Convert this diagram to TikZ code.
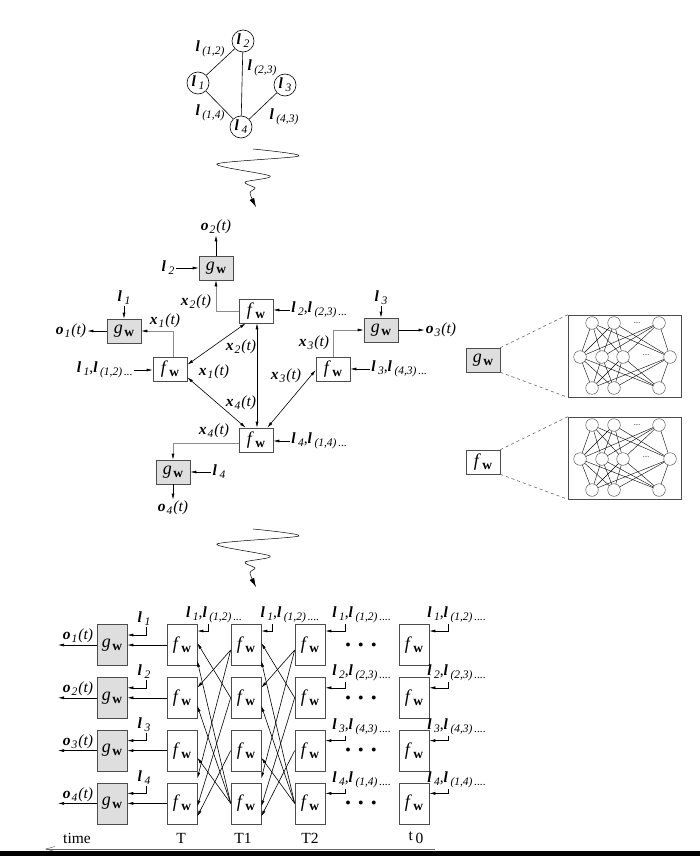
\documentclass[tikz,border=0pt]{standalone}
\usepackage{fontspec}
\setmainfont{Liberation Serif}
\usetikzlibrary{arrows.meta,positioning,calc}

\newcommand{\sub}[1]{\raisebox{-3pt}{\fontsize{11.5}{13}\selectfont\itshape #1}}
\newcommand{\lb}[1]{\textbf{\textit{l}}\hspace{2.5pt}\sub{#1}}
\newcommand{\vb}[2]{\textbf{\textit{#1}}\hspace{1pt}\sub{#2}\hspace{1pt}\textit{(t)}}
\newcommand{\fw}{\textit{f}\hspace{1.5pt}\raisebox{-3pt}{\fontsize{13.5}{15}\selectfont\bfseries w}}
\newcommand{\gw}{\textit{g}\hspace{1.5pt}\raisebox{-3pt}{\fontsize{13.5}{15}\selectfont\bfseries w}}

\begin{document}
\begin{tikzpicture}[x=1pt, y=-1pt, line width=0.6pt,
  font=\fontsize{15.5}{18}\selectfont,
  lab/.style={inner sep=1pt},
  fbox/.style={draw=black!70, fill=white, minimum width=34pt, minimum height=24pt,
    inner sep=0pt, font=\fontsize{18}{20}\selectfont},
  gbox/.style={fbox, fill=black!13},
  ubox/.style={fbox, minimum width=30pt, minimum height=41pt},
  ugbox/.style={ubox, fill=black!13},
  vtx/.style={circle, draw, minimum size=22pt, inner sep=0pt},
  nrn/.style={circle, draw=black!80, minimum size=12.6pt, inner sep=0pt, line width=0.4pt},
  arr/.style={-{Latex[length=6pt,width=3pt]}},
  darr/.style={{Latex[length=6pt,width=3pt]}-{Latex[length=6pt,width=3pt]}},
  glink/.style={draw=black!45, -{Latex[length=6pt,width=3pt,color=black]}},
  squig/.style={line width=0.5pt, -{Latex[length=9pt,width=5pt]}}
]
\useasboundingbox (0,0) rectangle (700,856);

% graph
\node[vtx] (v2) at (243,41) {\lb{2}};
\node[vtx] (v1) at (198,83) {\lb{1}};
\node[vtx] (v3) at (285,85) {\lb{3}};
\node[vtx] (v4) at (241,127) {\lb{4}};
\draw (v1) -- (v2);
\draw (v2) -- (v4);
\draw (v1) -- (v4);
\draw (v3) -- (v4);
\node[lab] (e12) at (210,49) {\lb{(1,2)}};
\node[lab] (e23) at (262,68) {\lb{(2,3)}};
\node[lab] (e14) at (210,113) {\lb{(1,4)}};
\node[lab] (e43) at (284,117) {\lb{(4,3)}};

% squiggly arrows
\foreach \d in {0,380}
  \draw[squig] plot[smooth, tension=0.5] coordinates {(253,149+\d) (299,156+\d)
    (217,164+\d) (270,176+\d) (245,182+\d) (255,188+\d) (250,193+\d) (256,207+\d)};

% encoding network
\node[gbox] (g2) at (216,268) {\gw};
\node[fbox] (f2) at (256,311) {\fw};
\node[gbox] (g1) at (124,331) {\gw};
\node[fbox] (f1) at (170,369) {\fw};
\node[gbox] (g3) at (381,330) {\gw};
\node[fbox] (f3) at (333,369) {\fw};
\node[fbox] (f4) at (256,440) {\fw};
\node[gbox] (g4) at (173,472) {\gw};

\node[lab] (o2) at (216,227) {\vb{o}{2}};
\draw[arr] (g2) -- (o2);
\node[lab] (l2) at (168,268) {\lb{2}};
\draw[arr] (l2) -- (g2);
\draw[glink] (f2.west) -| (g2.south);
\node[lab] (x2a) at (196,302) {\vb{x}{2}};
\node[lab, anchor=west] (in2) at (290,310) {\lb{2},\lb{(2,3)}\sub{\,...}};
\draw[arr] (in2.west) -- (in2.west -| f2.east);

\node[lab] (l1) at (124,298) {\lb{1}};
\draw[arr] (l1) -- (g1);
\node[lab] (o1) at (71,331) {\vb{o}{1}};
\draw[arr] (g1) -- (o1);
\draw[glink] ([xshift=3pt]f1.north) |- (g1.east);
\node[lab] (x1a) at (165,321) {\vb{x}{1}};
\node[lab, anchor=east] (in1) at (134,370) {\lb{1},\lb{(1,2)}\sub{\,...}};
\draw[arr] (in1.east) -- (in1.east -| f1.west);
\node[lab] (x1b) at (214,372) {\vb{x}{1}};
\node[lab] (x2b) at (241,347) {\vb{x}{2}};

\node[lab] (l3) at (381,298) {\lb{3}};
\draw[arr] (l3) -- (g3);
\node[lab] (o3) at (441,330) {\vb{o}{3}};
\draw[arr] (g3) -- (o3);
\draw[glink] (f3.north) |- (g3.west);
\node[lab] (x3a) at (314,343) {\vb{x}{3}};
\node[lab, anchor=west] (in3) at (370,369) {\lb{3},\lb{(4,3)}\sub{\,...}};
\draw[arr] (in3.west) -- (in3.west -| f3.east);
\node[lab] (x3b) at (286,376) {\vb{x}{3}};

\node[lab] (x4a) at (214,431) {\vb{x}{4}};
\node[lab] (x4b) at (241,403) {\vb{x}{4}};
\node[lab, anchor=west] (in4) at (290,441) {\lb{4},\lb{(1,4)}\sub{\,...}};
\draw[arr] (in4.west) -- (in4.west -| f4.east);
\draw[glink] ([yshift=-3pt]f4.west) -| (g4.north);
\node[lab] (l4) at (219,472) {\lb{4}};
\draw[arr] (l4) -- (g4);
\node[lab] (o4) at (173,508) {\vb{o}{4}};
\draw[arr] (g4) -- (o4);

\draw[darr] ([xshift=7pt]f2.south west) -- ([yshift=-8pt]f1.north east);
\draw[darr] ([yshift=4pt]f1.south east) -- ([xshift=7pt]f4.north west);
\draw[darr] ([xshift=1pt]f2.south) -- ([xshift=1pt]f4.north);
\draw[darr] ([yshift=-1pt]f3.west) -- ([xshift=-6pt]f4.north east);

% the two units as MLPs
\node[gbox] (gd) at (483,360) {\gw};
\node[fbox] (fd) at (483,462) {\fw};
\node[draw=black!70, minimum width=113pt, minimum height=82pt, inner sep=0pt] (ng) at (624.5,356) {};
\node[draw=black!70, minimum width=113pt, minimum height=82pt, inner sep=0pt] (nf) at (624.5,458) {};
\draw[dashed, black!60] (gd.north east) -- (ng.north west);
\draw[dashed, black!60] (gd.south east) -- (ng.south west);
\draw[dashed, black!60] (fd.north east) -- (nf.north west);
\draw[dashed, black!60] (fd.south east) -- (nf.south west);
\foreach \k/\c in {g/356, f/458} {
  \foreach \i/\x in {1/592, 2/614, 3/659} {
    \node[nrn] (\k t\i) at (\x,\c-33) {};
    \node[nrn] (\k b\i) at (\x,\c+32) {};
  }
  \foreach \i/\x in {1/580, 2/602, 3/623, 4/670}
    \node[nrn] (\k m\i) at (\x,\c+1) {};
  \foreach \i in {1,2,3}
    \foreach \j in {1,...,4} {
      \draw[line width=0.4pt] (\k t\i) -- (\k m\j);
      \draw[line width=0.4pt] (\k m\j) -- (\k b\i);
    }
  \node[font=\scriptsize] (\k dt) at (637,\c-33) {....};
  \node[font=\scriptsize] (\k dm) at (646,\c-1) {....};
}

% unfolded network
\foreach \i/\y in {1/645, 2/697.8, 3/750.6, 4/803.4} {
  \node[ugbox] (ug\i) at (112,\y) {\gw};
  \node[ubox] (ua\i) at (182,\y) {\fw};
  \node[ubox] (ub\i) at (246,\y) {\fw};
  \node[ubox] (uc\i) at (310,\y) {\fw};
  \node[ubox] (ud\i) at (414,\y) {\fw};
  \draw[arr] (ua\i) -- (ug\i);
  \coordinate (oe\i) at (58,\y);
  \draw[arr] (ug\i) -- (oe\i);
  \node[lab] (uo\i) at (78,\y-9) {\vb{o}{\i}};
  \node[lab] (ul\i) at (144,\y-26) {\lb{\i}};
  \draw[arr] ([xshift=2pt]ul\i.south) |- ([yshift=10pt]ug\i.east);
  \node[font=\fontsize{10}{12}\selectfont] (dd\i) at (361,\y) {$\bullet\;\;\bullet\;\;\bullet$};
}
\foreach \L/\R in {ua/ub, ub/uc}
  \foreach \j/\i/\s/\e in {2/1/0pt/2pt, 4/1/0pt/-16pt, 1/2/-5pt/10pt, 4/2/0pt/-8pt,
      4/3/0pt/-7pt, 1/4/-5pt/25pt, 2/4/0pt/-3pt, 3/4/0pt/-13pt}
    \draw[arr] ([yshift=\s]\R\j.west) -- ([yshift=\e]\L\i.east);

\node[lab] (lt) at (214,615) {\lb{1},\lb{(1,2)}\sub{\,...}};
\draw[arr] ([xshift=-6pt]lt.south) |- ([yshift=14pt]ua1.east);
\node[lab] (lt1) at (290,615) {\lb{1},\lb{(1,2)}\sub{\,....}};
\draw[arr] ([xshift=-18pt]lt1.south) |- ([yshift=14pt]ub1.east);

\foreach \i/\p/\ly/\ay in {1/{(1,2)}/615/14pt, 2/{(2,3)}/673/10pt,
    3/{(4,3)}/727/10pt, 4/{(1,4)}/780/10pt} {
  \node[lab, anchor=west] (lc\i) at (331,\ly) {\lb{\i},\lb{\p}\sub{\,....}};
  \draw[arr] ([xshift=14pt]lc\i.south west) |- ([yshift=\ay]uc\i.east);
  \node[lab, anchor=west] (ld\i) at (426,\ly) {\lb{\i},\lb{\p}\sub{\,....}};
  \draw[arr] ([xshift=22pt]ld\i.south west) |- ([yshift=\ay]ud\i.east);
}

% time axis
\node (tm) at (77,838) {time};
\node (tT) at (181,838) {T};
\node (tT1) at (243,838) {T1};
\node (tT2) at (310,838) {T2};
\node (tt0) at (416,838) {t\raisebox{-3pt}{\,0}};
\coordinate (tr) at (435,849);
\coordinate (tl) at (45,849);
\draw[black!60, line width=0.5pt, -{Straight Barb[length=9pt,width=5pt]}] (tr) -- (tl);
\fill[black] (0,851) rectangle (700,856);
\end{tikzpicture}
\end{document}
